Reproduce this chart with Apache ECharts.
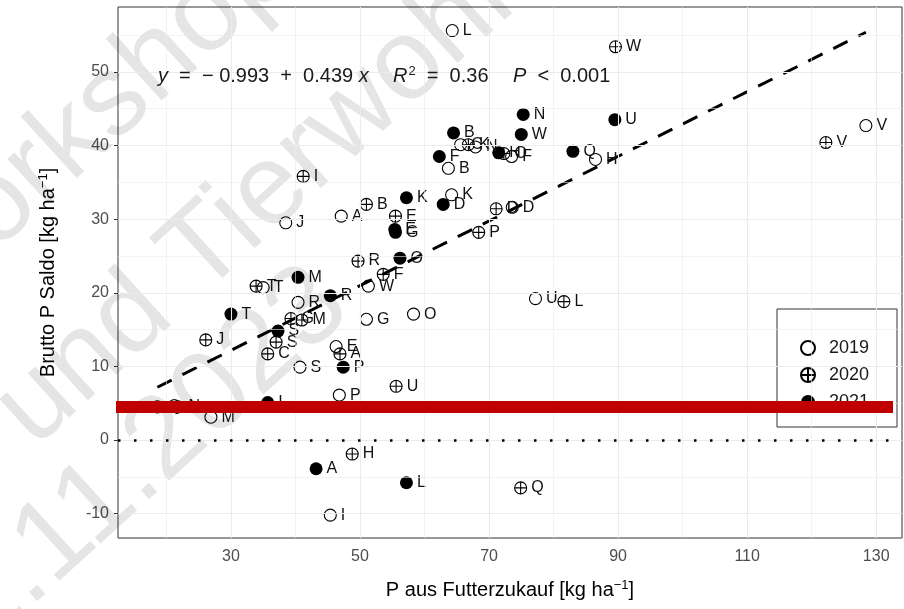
<!DOCTYPE html>
<html>
<head>
<meta charset="utf-8">
<script src="https://cdn.jsdelivr.net/npm/echarts@6/dist/echarts.min.js"></script>
<style>html,body{margin:0;padding:0;background:#fff}#c{width:904px;height:609px}</style>
</head>
<body>
<div id="c"></div>
<script>
// ---- data ----
const labels2019 = ['L','V','J','A','K','B','H','D','O','G','W','U','R','T','S','E','P','M','I','C','N','F','Q'];
const x2019 = [64.3,128.4,38.5,47.1,64.2,63.7,86.5,73.6,58.3,51.0,51.3,77.2,40.4,35.0,40.7,46.3,46.8,26.9,45.4,65.6,67.9,73.5,18.6];
const y2019 = [55.6,42.7,29.5,30.4,33.3,36.9,38.1,31.6,17.1,16.4,20.9,19.2,18.7,20.7,9.9,12.7,6.1,3.1,-10.2,40.1,39.8,38.5,4.5];

const labels2020 = ['W','V','I','B','E','R','F','P','D','T','J','C','S','A','U','H','Q','L','G','M','K','O','N'];
const x2020 = [89.6,122.2,41.2,51.0,55.5,49.7,53.6,68.4,71.1,33.9,26.1,35.7,37.0,46.9,55.6,48.8,74.9,81.6,39.3,41.0,66.8,72.3,21.8];
const y2020 = [53.4,40.4,35.8,32.0,30.4,24.3,22.5,28.2,31.4,20.9,13.6,11.7,13.3,11.7,7.3,-1.9,-6.5,18.8,16.5,16.3,40.1,38.9,4.5];

const labels2021 = ['N','W','U','Q','B','F','H','K','D','E','G','O','M','R','T','S','P','I','A','L'];
const x2021 = [75.3,75.0,89.5,83.0,64.5,62.3,71.5,57.2,62.9,55.4,55.5,56.2,40.4,45.4,30.0,37.3,47.4,35.7,43.2,57.2];
const y2021 = [44.2,41.5,43.5,39.2,41.7,38.5,39.0,32.9,32.0,28.6,28.2,24.7,22.1,19.6,17.1,14.8,9.9,5.1,-3.9,-5.8];

const years = ['2019','2020','2021'];
const xTicks = [30,50,70,90,110,130];
const yTicks = [-10,0,10,20,30,40,50];
const xMinorGrid = [20,40,60,80,100,120];
const yMinorGrid = [-5,5,15,25,35,45,55];
const intercept = -0.993, slope = 0.439;
const eqPart1 = '{i|y}  =  \u2212 0.993  +  0.439 {i|x}';
const eqPart2 = '{i|R}{sup|2}  =  0.36';
const eqPart3 = '{i|P}  <  0.001';

// ---- build ----
function pts(xs, ys, ls){ return xs.map((x,i)=>({value:[x, ys[i]], name: ls[i]})); }
const allX = x2019.concat(x2020, x2021);
const xLo = Math.min(...allX), xHi = Math.max(...allX);
const regData = [[xLo, intercept + slope*xLo],[xHi, intercept + slope*xHi]];

const FONT = 'Liberation Sans, Arial, sans-serif';
const plusPath = 'path://M10,0A10,10,0,1,1,-10,0A10,10,0,1,1,10,0ZM-10,0L10,0M0,-10L0,10';
const lbl = {show:true, position:'right', distance:4, formatter: p=>p.name, fontSize:16, color:'#111', fontFamily:FONT};

const chart = echarts.init(document.getElementById('c'), null, {renderer:'canvas'});
const gridLines = [];
xTicks.forEach(v=>gridLines.push({xAxis:v, lineStyle:{width:1.1}}));
xMinorGrid.forEach(v=>gridLines.push({xAxis:v, lineStyle:{width:0.6}}));
yTicks.forEach(v=>gridLines.push({yAxis:v, lineStyle:{width:1.1}}));
yMinorGrid.forEach(v=>gridLines.push({yAxis:v, lineStyle:{width:0.6}}));

const eqRich = {i:{fontStyle:'italic', fontSize:20, fill:'#1a1a1a', fontFamily:FONT}, sup:{fontSize:13, verticalAlign:'top', padding:[0,0,9,1], fill:'#1a1a1a'}};
const wm = 'rgba(0,0,0,0.10)';

const option = {
  animation:false,
  backgroundColor:'#fff',
  textStyle:{fontFamily:FONT},
  grid:{left:118, right:2, top:7, bottom:71, show:true, borderColor:'#333', borderWidth:1, backgroundColor:'#fff'},
  xAxis:{type:'value', min:12.5, max:134,
    axisLine:{show:false},
    axisTick:{show:true, length:4, customValues:xTicks, lineStyle:{color:'#333', width:1}},
    axisLabel:{customValues:xTicks, color:'#4d4d4d', fontSize:16, margin:11, fontFamily:FONT},
    splitLine:{show:false},
    name:'P aus Futterzukauf [kg ha{sup|\u22121}]', nameLocation:'middle', nameGap:41,
    nameTextStyle:{fontSize:20, color:'#000', fontFamily:FONT, rich:{sup:{fontSize:13, verticalAlign:'top', padding:[0,0,10,0], color:'#000'}}}
  },
  yAxis:{type:'value', min:-13.3, max:58.8,
    axisLine:{show:false},
    axisTick:{show:true, length:4, customValues:yTicks, lineStyle:{color:'#333', width:1}},
    axisLabel:{customValues:yTicks, color:'#4d4d4d', fontSize:16, margin:9, fontFamily:FONT},
    splitLine:{show:false},
    name:'Brutto P Saldo [kg ha{sup|\u22121}]', nameLocation:'middle', nameGap:58,
    nameTextStyle:{fontSize:20, color:'#000', fontFamily:FONT, rich:{sup:{fontSize:13, verticalAlign:'top', padding:[0,0,10,0], color:'#000'}}}
  },
  legend:{data:years, orient:'vertical', left:795, top:334, itemWidth:14, itemHeight:14, itemGap:9,
    textStyle:{fontSize:18, color:'#1a1a1a', fontFamily:FONT, padding:[0,0,0,9]}, z:5},
  series:[
    {type:'line', name:'grid', data:[], silent:true, z:1,
     markLine:{silent:true, symbol:'none', label:{show:false}, animation:false,
       lineStyle:{color:'#ebebeb', type:'solid'}, data:gridLines}},
    {type:'line', name:'zero', data:[], silent:true, z:3,
     markLine:{silent:true, symbol:'none', label:{show:false}, animation:false,
       lineStyle:{color:'#000', type:[2.5,13.5], width:2.5}, data:[{yAxis:0}]}},
    {type:'line', name:'fit', data:regData, symbol:'none', silent:true, z:3,
     lineStyle:{color:'#000', width:3, type:[16,12]}},
    {type:'scatter', name:'2019', data:pts(x2019,y2019,labels2019), symbol:'circle', symbolSize:12, z:4,
     itemStyle:{color:'rgba(0,0,0,0)', borderColor:'#000', borderWidth:1.1, opacity:1}, label:lbl},
    {type:'scatter', name:'2020', data:pts(x2020,y2020,labels2020), symbol:plusPath, symbolSize:12, z:4,
     itemStyle:{color:'rgba(0,0,0,0)', borderColor:'#000', borderWidth:1.1, opacity:1}, label:lbl},
    {type:'scatter', name:'2021', data:pts(x2021,y2021,labels2021), symbol:'circle', symbolSize:13, z:4,
     itemStyle:{color:'#000', opacity:1}, label:lbl}
  ],
  graphic:[
    {type:'text', x:0, y:205, rotation:0.74, z:2, silent:true, style:{text:'Fachworkshop', fontSize:115, fill:wm, fontFamily:FONT, align:'center', verticalAlign:'middle'}},
    {type:'text', x:255, y:205, rotation:0.74, z:2, silent:true, style:{text:'und Tierwohl', fontSize:115, fill:wm, fontFamily:FONT, align:'center', verticalAlign:'middle'}},
    {type:'text', x:123, y:480, rotation:0.74, z:2, silent:true, style:{text:'21.11.2023', fontSize:115, fill:wm, fontFamily:FONT, align:'center', verticalAlign:'middle'}},
    {type:'text', x:158, y:76, z:6, style:{text:eqPart1, fontSize:20, fill:'#1a1a1a', fontFamily:FONT, verticalAlign:'middle', rich:eqRich}},
    {type:'text', x:393, y:76, z:6, style:{text:eqPart2, fontSize:20, fill:'#1a1a1a', fontFamily:FONT, verticalAlign:'middle', rich:eqRich}},
    {type:'text', x:513, y:76, z:6, style:{text:eqPart3, fontSize:20, fill:'#1a1a1a', fontFamily:FONT, verticalAlign:'middle', rich:eqRich}},
    {type:'rect', shape:{x:777, y:309, width:120, height:118}, z:4, style:{fill:'#fff', stroke:'#333', lineWidth:1}},
    {type:'rect', shape:{x:116, y:401, width:777, height:12}, z:50, style:{fill:'#c00000'}}
  ]
};
chart.setOption(option);
</script>
</body>
</html>
